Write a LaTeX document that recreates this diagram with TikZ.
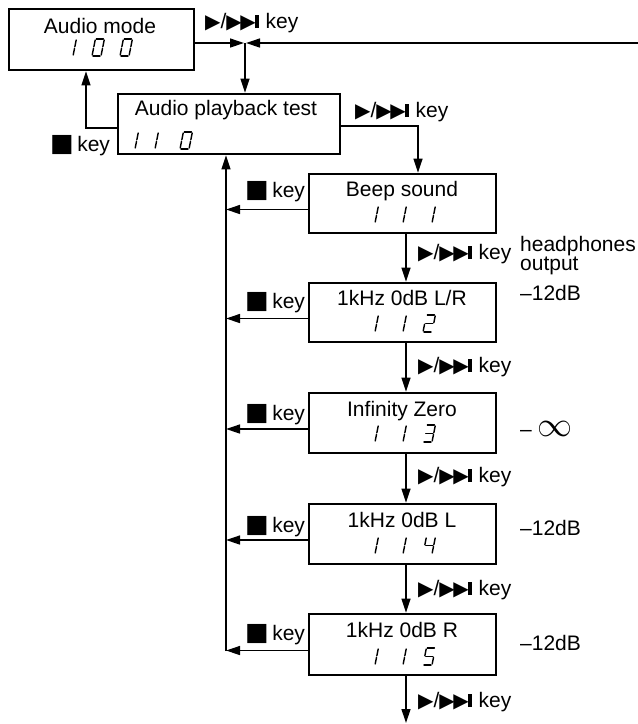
\documentclass[tikz,border=0pt]{standalone}
\usepackage{fontspec}
\usepackage{graphicx}
\setmainfont{Liberation Sans}
\newfontfamily\djv{DejaVu Sans}
\usetikzlibrary{arrows.meta}
\newcommand\zsga{\draw[seg] (1,-17)--(8,-17);}
\newcommand\zsgb{\draw[seg] (9,-16)--(9,-9.3);}
\newcommand\zsgc{\draw[seg] (9,-7.7)--(9,-1);}
\newcommand\zsgd{\draw[seg] (1,0)--(8,0);}
\newcommand\zsge{\draw[seg] (0,-7.7)--(0,-1);}
\newcommand\zsgf{\draw[seg] (0,-16)--(0,-9.3);}
\newcommand\zsgg{\draw[seg] (1,-8.5)--(8,-8.5);}
% #1 left x, #2 top y, #3 segment list macro
\newcommand\segdig[3]{\begin{scope}[shift={(#1,#2+17)},xslant=0.2]
\foreach \s in #3 {\csname zsg\s\endcsname}\end{scope}}
\newcommand\dOne{b,c}
\newcommand\dZero{a,b,c,d,e,f}
\newcommand\dTwo{a,b,g,e,d}
\newcommand\dThree{a,b,g,c,d}
\newcommand\dFour{f,g,b,c}
\newcommand\dFive{a,f,g,c,d}
\newcommand\tri{{\djv\fontsize{20}{20}\selectfont ▶}}
\newcommand\playkey{\tri/\tri\kern-1.5pt\tri\kern-1pt\rule{4pt}{13pt}\kern7pt key}
\newcommand\stopkey{{\djv\fontsize{25}{25}\selectfont ■}\,key}
\begin{document}
\begin{tikzpicture}[x=1pt,y=-1pt,
  box/.style={draw,line width=2.6pt,inner sep=0pt},
  seg/.style={line width=1.4pt,line cap=round},
  conn/.style={line width=1.3pt,-{Triangle[length=14pt,width=9pt]}},
  txt/.style={inner sep=0pt,anchor=base,font=\fontsize{21}{24}\selectfont},
  lbl/.style={inner sep=0pt,anchor=base west,font=\fontsize{21}{24}\selectfont}]
\useasboundingbox (0,0) rectangle (638,724);
% boxes
\node[box,minimum width=185pt,minimum height=61pt] (am) at (101.5,39.5) {};
\node[box,minimum width=222pt,minimum height=60pt] (apt) at (229,124) {};
\node[box,minimum width=187pt,minimum height=59pt] (beep) at (402.5,203.5) {};
\node[box,minimum width=187pt,minimum height=59pt] (lr) at (402.5,312.5) {};
\node[box,minimum width=187pt,minimum height=60pt] (inf) at (402.5,423) {};
\node[box,minimum width=187pt,minimum height=60pt] (kl) at (402.5,534) {};
\node[box,minimum width=187pt,minimum height=61pt] (kr) at (402.5,644.5) {};
% titles
\node[txt] (tam) at (100,33) {Audio mode};
\node[txt] (tapt) at (226,115) {Audio playback test};
\node[txt] (tbeep) at (402,196) {Beep sound};
\node[txt] (tlr) at (402,305) {1kHz 0dB L/R};
\node[txt] (tinf) at (402,416) {Infinity Zero};
\node[txt] (tkl) at (402,527) {1kHz 0dB L};
\node[txt] (tkr) at (402,637) {1kHz 0dB R};
% digits
\segdig{64}{39}{\dOne}\segdig{92}{39}{\dZero}\segdig{120}{39}{\dZero}
\segdig{126}{132}{\dOne}\segdig{146}{132}{\dOne}\segdig{180}{132}{\dZero}
\segdig{366}{206}{\dOne}\segdig{394}{206}{\dOne}\segdig{423}{206}{\dOne}
\segdig{366}{315}{\dOne}\segdig{394}{315}{\dOne}\segdig{423}{315}{\dTwo}
\segdig{366}{425}{\dOne}\segdig{394}{425}{\dOne}\segdig{423}{425}{\dThree}
\segdig{366}{537}{\dOne}\segdig{394}{537}{\dOne}\segdig{423}{537}{\dFour}
\segdig{366}{648}{\dOne}\segdig{394}{648}{\dOne}\segdig{423}{648}{\dFive}
% coordinates
\coordinate (jn) at (245,43);
\coordinate (jl) at (244,43);
\coordinate (jr) at (246,43);
\coordinate (rend) at (638,43);
\coordinate (vb) at (226,651);
\coordinate (bend) at (406,723);
% connectors
\draw[conn] (am.east |- jn) -- (jl);
\draw[conn] (rend) -- (jr);
\draw[conn] (jn) -- (jn |- apt.north);
\draw[conn] ([yshift=-4pt]apt.west) -| ([xshift=-15.5pt]am.south);
\draw[conn] ([yshift=-2pt]apt.east) -| ([xshift=15.5pt]beep.north);
\draw[conn] ([xshift=3.5pt]beep.south) -- ([xshift=3.5pt]lr.north);
\draw[conn] ([xshift=3.5pt]lr.south) -- ([xshift=3.5pt]inf.north);
\draw[conn] ([xshift=3.5pt]inf.south) -- ([xshift=3.5pt]kl.north);
\draw[conn] ([xshift=3.5pt]kl.south) -- ([xshift=3.5pt]kr.north);
\draw[conn] ([xshift=3.5pt]kr.south) -- (bend);
\draw[conn] (vb) -- (vb |- apt.south);
\foreach \b in {beep,lr,inf,kl,kr}
  \draw[conn] ([yshift=-6pt]\b.west) -- ([yshift=-6pt]\b.west -| vb);
% key labels
\node[lbl] (k0) at (205,28) {\playkey};
\node[lbl] (k1) at (355,117) {\playkey};
\node[lbl] (k2) at (418,259) {\playkey};
\node[lbl] (k3) at (418,372) {\playkey};
\node[lbl] (k4) at (418,482) {\playkey};
\node[lbl] (k5) at (418,595) {\playkey};
\node[lbl] (k6) at (418,707) {\playkey};
\node[lbl] (s0) at (50,151) {\stopkey};
\node[lbl] (s1) at (245,197) {\stopkey};
\node[lbl] (s2) at (245,308) {\stopkey};
\node[lbl] (s3) at (245,420) {\stopkey};
\node[lbl] (s4) at (245,532) {\stopkey};
\node[lbl] (s5) at (245,640) {\stopkey};
% notes
\node[lbl] (hp) at (520,251) {headphones};
\node[lbl] (op) at (520,270) {output};
\node[lbl] (d1) at (520,300) {–12dB};
\node[lbl] (d2) at (520,436) {–\kern6pt\resizebox{35pt}{!}{$\infty$}};
\node[lbl] (d3) at (520,535) {–12dB};
\node[lbl] (d4) at (520,650) {–12dB};
\end{tikzpicture}
\end{document}
